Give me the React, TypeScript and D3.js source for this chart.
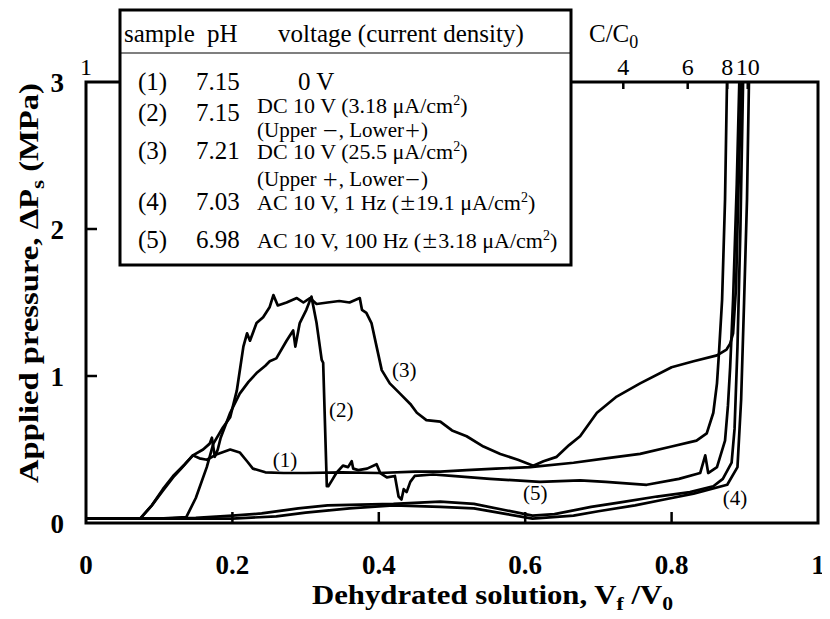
import React from "react";
import * as d3 from "d3";

// ---- data (Vf/V0, applied pressure MPa) ----
const curve1: [number, number][] = [
  [0, 0.03], [0.03, 0.03], [0.074, 0.03], [0.09, 0.12], [0.105, 0.22], [0.119, 0.31], [0.13, 0.37],
  [0.146, 0.46], [0.155, 0.44], [0.165, 0.43], [0.18, 0.47], [0.197, 0.5], [0.21, 0.48], [0.22, 0.42],
  [0.228, 0.37], [0.245, 0.345], [0.27, 0.34], [0.3, 0.34], [0.35, 0.345], [0.4, 0.34], [0.45, 0.35],
  [0.484, 0.35], [0.52, 0.36], [0.56, 0.37], [0.607, 0.38], [0.666, 0.41], [0.71, 0.44], [0.757, 0.47],
  [0.8, 0.52], [0.834, 0.56], [0.848, 0.61], [0.857, 0.75], [0.862, 0.95], [0.865, 1.18], [0.869, 1.52],
  [0.873, 2.2], [0.876, 3.1],
];
const curve2: [number, number][] = [
  [0, 0.03], [0.074, 0.03], [0.09, 0.12], [0.105, 0.23], [0.119, 0.32], [0.135, 0.4], [0.146, 0.46],
  [0.16, 0.5], [0.169, 0.54], [0.172, 0.58], [0.176, 0.45], [0.18, 0.5], [0.184, 0.58], [0.197, 0.75],
  [0.21, 0.88], [0.222, 0.96], [0.233, 1.02], [0.245, 1.07], [0.251, 1.1], [0.26, 1.12], [0.274, 1.24],
  [0.283, 1.31], [0.286, 1.2], [0.292, 1.36], [0.301, 1.45], [0.308, 1.54], [0.315, 1.36], [0.322, 1.11],
  [0.324, 1.09], [0.329, 0.25], [0.331, 0.25], [0.336, 0.29], [0.342, 0.34], [0.351, 0.39], [0.358, 0.38],
  [0.363, 0.42], [0.365, 0.37], [0.372, 0.36], [0.384, 0.37], [0.397, 0.4], [0.402, 0.34], [0.411, 0.31],
  [0.422, 0.32], [0.427, 0.18], [0.431, 0.16], [0.434, 0.23], [0.438, 0.21], [0.443, 0.28], [0.449, 0.32],
  [0.474, 0.33], [0.5, 0.32], [0.552, 0.3], [0.62, 0.28], [0.675, 0.29], [0.71, 0.28], [0.766, 0.26],
  [0.81, 0.3], [0.839, 0.34], [0.846, 0.46], [0.85, 0.34], [0.862, 0.38], [0.873, 0.56], [0.877, 0.8],
  [0.88, 1.06], [0.884, 1.52], [0.889, 2.3], [0.893, 3.1],
];
const curve3: [number, number][] = [
  [0, 0.03], [0.1, 0.03], [0.137, 0.04], [0.15, 0.17], [0.165, 0.38], [0.174, 0.54], [0.187, 0.65],
  [0.197, 0.72], [0.206, 0.9], [0.215, 1.2], [0.22, 1.29], [0.224, 1.24], [0.233, 1.36], [0.242, 1.4],
  [0.251, 1.47], [0.256, 1.55], [0.262, 1.48], [0.274, 1.5], [0.288, 1.53], [0.297, 1.5], [0.306, 1.53],
  [0.315, 1.49], [0.33, 1.5], [0.346, 1.51], [0.36, 1.5], [0.374, 1.53], [0.377, 1.45], [0.383, 1.43],
  [0.39, 1.36], [0.397, 1.2], [0.404, 1.04], [0.415, 0.95], [0.429, 0.88], [0.443, 0.81], [0.452, 0.75],
  [0.465, 0.7], [0.484, 0.69], [0.5, 0.63], [0.52, 0.59], [0.543, 0.52], [0.566, 0.47], [0.59, 0.43],
  [0.611, 0.39], [0.625, 0.42], [0.643, 0.45], [0.66, 0.53], [0.675, 0.59], [0.698, 0.75], [0.725, 0.86],
  [0.757, 0.95], [0.8, 1.06], [0.83, 1.1], [0.862, 1.14], [0.875, 1.18], [0.88, 1.22], [0.884, 1.29],
  [0.888, 1.6], [0.892, 2.4], [0.896, 3.1],
];
const curve4: [number, number][] = [
  [0, 0.03], [0.15, 0.03], [0.2, 0.03], [0.26, 0.045], [0.3, 0.07], [0.36, 0.1], [0.42, 0.12],
  [0.484, 0.11], [0.53, 0.1], [0.575, 0.06], [0.61, 0.03], [0.666, 0.05], [0.7, 0.08], [0.75, 0.12],
  [0.79, 0.16], [0.83, 0.2], [0.876, 0.26], [0.89, 0.38], [0.895, 0.84], [0.899, 1.5], [0.903, 2.2],
  [0.906, 3.1],
];
const curve5: [number, number][] = [
  [0, 0.03], [0.1, 0.03], [0.15, 0.035], [0.2, 0.05], [0.24, 0.065], [0.29, 0.1], [0.33, 0.12],
  [0.42, 0.13], [0.484, 0.145], [0.53, 0.13], [0.575, 0.085], [0.61, 0.05], [0.64, 0.06], [0.69, 0.11],
  [0.73, 0.14], [0.78, 0.18], [0.825, 0.21], [0.857, 0.25], [0.87, 0.3], [0.882, 0.41], [0.886, 0.64],
  [0.89, 1.2], [0.894, 2.0], [0.898, 3.1],
];

const curveLabels = ["(1)", "(2)", "(3)", "(4)", "(5)"];
const curveLabelPos: [number, number][] = [
  [0.255, 0.38], [0.332, 0.72], [0.418, 0.99], [0.87, 0.12], [0.597, 0.155],
];

const xTicks = [0, 0.2, 0.4, 0.6, 0.8, 1];
const xTickLabels = ["0", "0.2", "0.4", "0.6", "0.8", "1"];
const yTicks = [0, 1, 2, 3];
const yTickLabels = ["0", "1", "2", "3"];
const topTickPos = [0.734, 0.822, 0.876, 0.904];
const topTickLabels = ["4", "6", "8", "10"];

const legendSamples = ["(1)", "(2)", "(3)", "(4)", "(5)"];
const legendPH = ["7.15", "7.15", "7.21", "7.03", "6.98"];

const W = 830;
const H = 619;
const FONT = "'Liberation Serif', 'Times New Roman', serif";
const WIDE = "'Noto Sans CJK JP', 'Noto Sans CJK SC', sans-serif";

function Sup2() {
  return (
    <>
      <tspan dy={-8} fontSize={14}>2</tspan>
      <tspan dy={8}>)</tspan>
    </>
  );
}

function W2({ c }: { c: string }) {
  return <tspan fontFamily={WIDE} fontSize={17}>{c}</tspan>;
}

export default function App() {
  const x = d3.scaleLinear().domain([0, 1]).range([86, 818]);
  const y = d3.scaleLinear().domain([0, 3]).range([523, 82]);
  const line = d3
    .line<[number, number]>()
    .x((d) => x(d[0]))
    .y((d) => y(d[1]));
  const curves = [curve1, curve2, curve3, curve4, curve5];

  const lx = 120, ly = 10, lw = 451, lh = 255;
  const rowY = [90, 121, 159, 210, 248];

  return (
    <div style={{ margin: -8 }}>
      <svg width={W} height={H} style={{ display: "block", background: "#fff" }} fontFamily={FONT}>
        <defs>
          <clipPath id="plotclip">
            <rect x={86} y={82} width={732} height={441} />
          </clipPath>
        </defs>

        {/* curves */}
        <g clipPath="url(#plotclip)">
          {curves.map((c, i) => (
            <path key={i} d={line(c) || ""} fill="none" stroke="#000" strokeWidth={2.7} strokeLinejoin="round" />
          ))}
        </g>

        {/* frame */}
        <rect x={86} y={82} width={732} height={441} fill="none" stroke="#000" strokeWidth={3} />

        {/* x ticks */}
        {xTicks.slice(1, -1).map((t) => (
          <line key={t} x1={x(t)} x2={x(t)} y1={523} y2={512} stroke="#000" strokeWidth={2.5} />
        ))}
        {xTicks.map((t, i) => (
          <text key={t} x={x(t)} y={574} textAnchor="middle" fontWeight="bold" fontSize={27}>
            {xTickLabels[i]}
          </text>
        ))}
        {/* y ticks */}
        {yTicks.slice(1, -1).map((t) => (
          <line key={t} x1={86} x2={97} y1={y(t)} y2={y(t)} stroke="#000" strokeWidth={2.5} />
        ))}
        {yTicks.map((t, i) => (
          <text key={t} x={64} y={y(t) + 10} textAnchor="end" fontWeight="bold" fontSize={27}>
            {yTickLabels[i]}
          </text>
        ))}

        {/* top axis */}
        {topTickPos.map((t) => (
          <line key={t} x1={x(t)} x2={x(t)} y1={82} y2={89} stroke="#000" strokeWidth={2.5} />
        ))}
        {topTickPos.map((t, i) => (
          <text key={t} x={x(t)} y={75} textAnchor="middle" fontSize={24}>
            {topTickLabels[i]}
          </text>
        ))}
        <text x={x(0)} y={75} textAnchor="middle" fontSize={24}>1</text>
        <text x={589} y={42} fontSize={25}>
          C/C<tspan dy={6} fontSize={18}>0</tspan>
        </text>

        {/* curve labels */}
        {curveLabels.map((l, i) => (
          <text key={l} x={x(curveLabelPos[i][0])} y={y(curveLabelPos[i][1])} fontSize={21}>
            {l}
          </text>
        ))}

        {/* axis titles */}
        <text x={312} y={604} fontWeight="bold" fontSize={27} textLength={361} lengthAdjust="spacingAndGlyphs">
          Dehydrated solution, V<tspan dy={6} fontSize={19}>f</tspan>
          <tspan dy={-6}> /V</tspan>
          <tspan dy={6} fontSize={19}>0</tspan>
        </text>
        <text
          transform="translate(38,483) rotate(-90)"
          fontWeight="bold"
          fontSize={27}
          textLength={400}
          lengthAdjust="spacingAndGlyphs"
        >
          Applied pressure, ΔP<tspan dy={6} fontSize={19}>s</tspan>
          <tspan dy={-6}> (MPa)</tspan>
        </text>

        {/* legend */}
        <rect x={lx} y={ly} width={lw} height={lh} fill="#fff" stroke="#000" strokeWidth={3} />
        <line x1={lx} x2={lx + lw} y1={53} y2={53} stroke="#000" strokeWidth={1.2} />
        <text x={124} y={42} fontSize={25}>sample</text>
        <text x={207} y={42} fontSize={25}>pH</text>
        <text x={278} y={42} fontSize={25}>voltage (current density)</text>

        {legendSamples.map((s, i) => (
          <g key={s}>
            <text x={138} y={rowY[i]} fontSize={25}>{s}</text>
            <text x={196} y={rowY[i]} fontSize={25}>{legendPH[i]}</text>
          </g>
        ))}
        <text x={298} y={rowY[0]} fontSize={25}>0 V</text>
        <text x={257} y={113} fontSize={22}>
          DC 10 V (3.18 μA/cm<Sup2 />
        </text>
        <text x={257} y={137} fontSize={21}>
          (Upper <W2 c="－" />, Lower<W2 c="＋" />)
        </text>
        <text x={257} y={159} fontSize={22}>
          DC 10 V (25.5 μA/cm<Sup2 />
        </text>
        <text x={257} y={186} fontSize={21}>
          (Upper <W2 c="＋" />, Lower<W2 c="－" />)
        </text>
        <text x={257} y={rowY[3]} fontSize={22}>
          AC 10 V, 1 Hz (<W2 c="±" />19.1 μA/cm<Sup2 />
        </text>
        <text x={257} y={rowY[4]} fontSize={22}>
          AC 10 V, 100 Hz (<W2 c="±" />3.18 μA/cm<Sup2 />
        </text>
      </svg>
    </div>
  );
}
